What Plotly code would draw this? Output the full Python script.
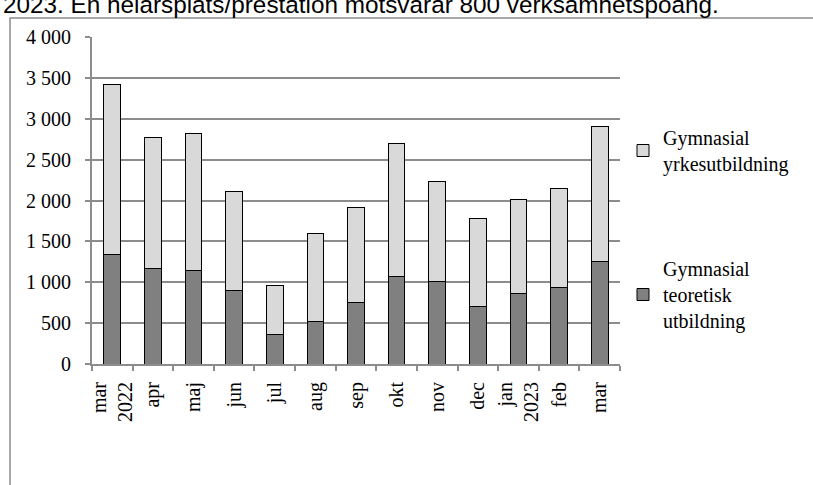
import plotly.graph_objects as go

months = ["mar<br>2022", "apr", "maj", "jun", "jul", "aug", "sep", "okt",
          "nov", "dec", "jan<br>2023", "feb", "mar"]
teoretisk = [1335, 1170, 1140, 895, 365, 515, 755, 1075, 1005, 700, 860, 940, 1250]
yrkes = [2080, 1606, 1677, 1210, 598, 1078, 1160, 1627, 1227, 1077, 1152, 1206, 1652]
name_teoretisk = "Gymnasial<br>teoretisk<br>utbildning"
name_yrkes = "Gymnasial<br>yrkesutbildning"
y_ticks = [0, 500, 1000, 1500, 2000, 2500, 3000, 3500, 4000]
top_text = "2023. En helårsplats/prestation motsvarar 800 verksamhetspoäng."

W, H = 813, 485
L, R, T, B = 92, 193, 37, 121
pw, ph = W - L - R, H - T - B

def px(x):
    return (x - L) / pw

def py(y):
    return (H - B - y) / ph

serif = "Liberation Serif, Times New Roman, serif"
grid = "#8c8c8c"

fig = go.Figure()
fig.add_trace(go.Bar(x=months, y=teoretisk, name=name_teoretisk,
                     marker=dict(color="#808080", line=dict(color="#000000", width=1)),
                     legend="legend2"))
fig.add_trace(go.Bar(x=months, y=yrkes, name=name_yrkes,
                     marker=dict(color="#d9d9d9", line=dict(color="#000000", width=1)),
                     legend="legend"))

fig.update_layout(
    width=W, height=H,
    margin=dict(l=L, r=R, t=T, b=B, pad=0),
    barmode="stack", bargap=0.59,
    plot_bgcolor="white", paper_bgcolor="white",
    separators=", ",
    font=dict(family=serif, size=20, color="#000000"),
    showlegend=True,
    legend=dict(x=px(623), y=py(118), xanchor="left", yanchor="top",
                font=dict(family=serif, size=20), bgcolor="rgba(0,0,0,0)",
                itemwidth=30),
    legend2=dict(x=px(623), y=py(249), xanchor="left", yanchor="top",
                 font=dict(family=serif, size=20), bgcolor="rgba(0,0,0,0)",
                 itemwidth=30),
    xaxis=dict(type="category", tickangle=-90, showline=True, linecolor=grid,
               linewidth=2, ticks="outside", ticklen=5, tickwidth=2, tickcolor=grid,
               tickson="boundaries", showgrid=False,
               tickfont=dict(family=serif, size=20), ticklabelstandoff=8),
    yaxis=dict(range=[0, 4000], tickvals=y_ticks, tickformat=",d",
               showline=True, linecolor=grid, linewidth=2,
               ticks="outside", ticklen=5, tickwidth=2, tickcolor=grid,
               showgrid=True, gridcolor=grid, gridwidth=2, zeroline=False,
               tickfont=dict(family=serif, size=20), ticklabelstandoff=10),
    shapes=[dict(type="rect", xref="paper", yref="paper",
                 x0=px(10), x1=px(830), y0=py(500), y1=py(18),
                 line=dict(color="#8c8c8c", width=1.5), layer="below")],
    annotations=[dict(text=top_text, xref="paper", yref="paper",
                      x=px(1), y=py(19.5), xanchor="left", yanchor="bottom",
                      showarrow=False,
                      font=dict(family="Liberation Sans, Arial, sans-serif", size=24.3, color="#000000"))],
)

fig.write_html("out.html",
               config={"displayModeBar": False},
               post_script="document.body.style.margin='0';document.body.style.overflow='hidden';")
